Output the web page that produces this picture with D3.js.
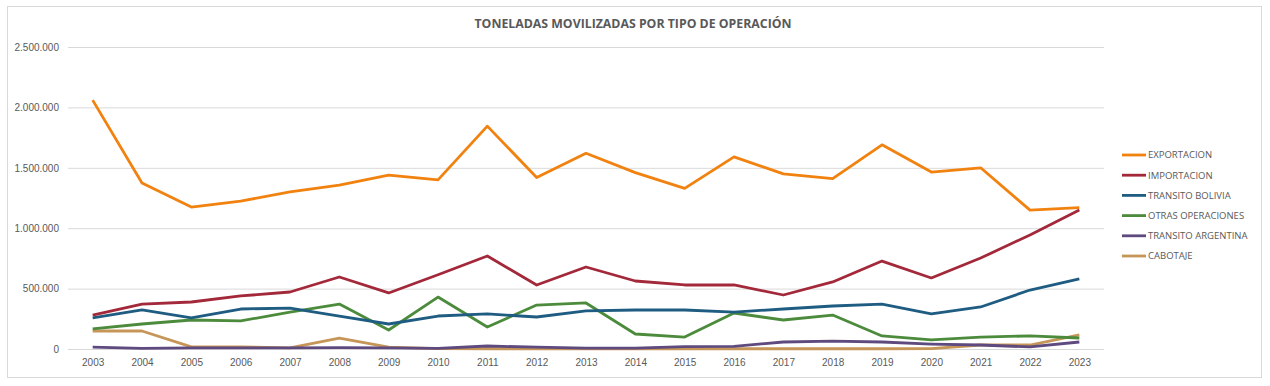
<!DOCTYPE html>
<html>
<head>
<meta charset="utf-8">
<script src="https://cdn.jsdelivr.net/npm/d3@7"></script>
<style>
  body { margin: 0; background: #fff; }
  svg { display: block; font-family: "Open Sans", "Liberation Sans", sans-serif; }
</style>
</head>
<body>
<svg id="chart" width="1270" height="386"></svg>
<script>
const years = d3.range(2003, 2024).map(String);

const exportacion = [2060000, 1374000, 1175000, 1225000, 1300000, 1357000, 1440000, 1400000, 1845000, 1420000, 1620000, 1460000, 1330000, 1590000, 1450000, 1410000, 1690000, 1465000, 1500000, 1150000, 1170000];
const importacion = [281000, 372000, 389000, 439000, 472000, 596000, 464000, 615000, 770000, 530000, 679000, 563000, 530000, 530000, 447000, 555000, 728000, 588000, 753000, 944000, 1150000];
const transitoBolivia = [257000, 323000, 257000, 331000, 339000, 273000, 207000, 273000, 290000, 265000, 315000, 323000, 323000, 306000, 331000, 356000, 372000, 290000, 348000, 488000, 580000];
const otrasOperaciones = [166000, 207000, 240000, 232000, 306000, 372000, 157000, 430000, 182000, 364000, 381000, 124000, 99000, 298000, 240000, 281000, 108000, 75000, 99000, 108000, 91000];
const transitoArgentina = [15000, 5000, 10000, 10000, 10000, 12000, 10000, 5000, 25000, 15000, 8000, 8000, 20000, 22000, 58000, 66000, 58000, 41000, 33000, 17000, 58000];
const cabotaje = [149000, 149000, 17000, 17000, 10000, 91000, 15000, 3000, 2000, 2000, 2000, 2000, 2000, 2000, 2000, 2000, 2000, 3000, 33000, 33000, 116000];

const yTicks = [0, 500000, 1000000, 1500000, 2000000, 2500000];

const series = [
  { name: "EXPORTACION", values: exportacion, color: "#F2820F" },
  { name: "IMPORTACION", values: importacion, color: "#A3283A" },
  { name: "TRANSITO BOLIVIA", values: transitoBolivia, color: "#1F5C82" },
  { name: "OTRAS OPERACIONES", values: otrasOperaciones, color: "#4B8B3B" },
  { name: "TRANSITO ARGENTINA", values: transitoArgentina, color: "#5E4A7E" },
  { name: "CABOTAJE", values: cabotaje, color: "#C69558" }
];

const svg = d3.select("#chart");
const margin = { left: 68, right: 1104, top: 47, bottom: 349 };

// chart border
svg.append("rect")
  .attr("x", 7.5).attr("y", 6.5)
  .attr("width", 1254).attr("height", 371)
  .attr("fill", "#fff").attr("stroke", "#d9d9d9");

svg.append("text")
  .attr("x", 633).attr("y", 28)
  .attr("text-anchor", "middle")
  .attr("font-size", 12.3).attr("font-weight", "bold")
  .attr("fill", "#595959")
  .text("TONELADAS MOVILIZADAS POR TIPO DE OPERACIÓN");

const x = d3.scalePoint().domain(years)
  .range([margin.left, margin.right]).padding(0.5);
const y = d3.scaleLinear().domain([0, 2500000])
  .range([margin.bottom, margin.top]);

const fmt = v => d3.format(",")(v).replace(/,/g, ".");

// gridlines + y labels
const yAxis = svg.append("g")
  .attr("transform", `translate(${margin.left},0)`)
  .call(d3.axisLeft(y).tickValues(yTicks).tickFormat(fmt)
    .tickSize(-(margin.right - margin.left)).tickPadding(9));
yAxis.select(".domain").remove();
yAxis.selectAll("line").attr("stroke", "#d9d9d9");
yAxis.selectAll("text").attr("fill", "#595959").attr("font-size", 10);

const xAxis = svg.append("g")
  .attr("transform", `translate(0,${margin.bottom})`)
  .call(d3.axisBottom(x).tickSize(0).tickPadding(10));
xAxis.select(".domain").remove();
xAxis.selectAll("text").attr("fill", "#595959").attr("font-size", 10);

const line = d3.line()
  .x((d, i) => x(years[i]))
  .y(d => y(d));

// draw bottom series first so export is on top
svg.append("g").selectAll("path")
  .data(series.slice().reverse())
  .join("path")
  .attr("d", d => line(d.values))
  .attr("fill", "none")
  .attr("stroke", d => d.color)
  .attr("stroke-width", 2.8)
  .attr("stroke-linejoin", "round");

const legend = svg.append("g").selectAll("g")
  .data(series)
  .join("g")
  .attr("transform", (d, i) => `translate(1122,${155 + i * 20.2})`);
legend.append("line")
  .attr("x1", 0).attr("x2", 24)
  .attr("stroke", d => d.color).attr("stroke-width", 2.8);
legend.append("text")
  .attr("x", 26).attr("dy", "0.35em")
  .attr("font-size", 9.5).attr("fill", "#595959")
  .text(d => d.name);
</script>
</body>
</html>
